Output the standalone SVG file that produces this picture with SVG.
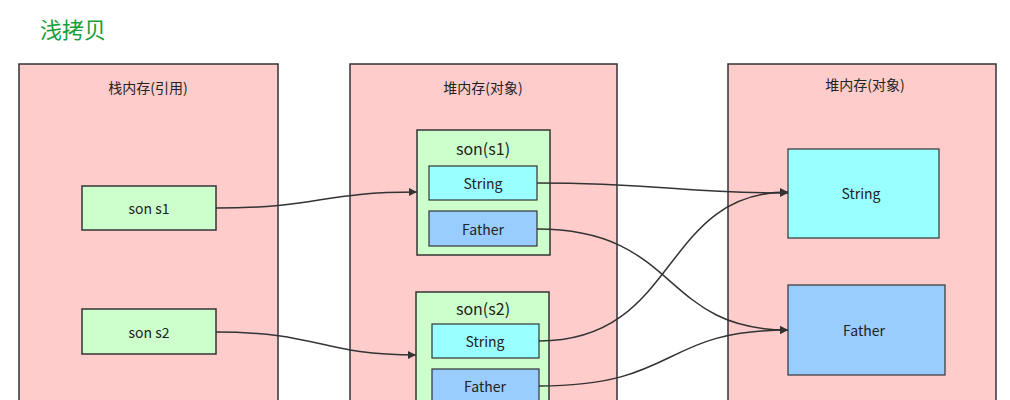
<svg xmlns="http://www.w3.org/2000/svg" width="1010" height="400" viewBox="0 0 1010 400">
<style>
text{font-family:"Noto Sans CJK SC","Liberation Sans",sans-serif;fill:#222;text-anchor:middle;dominant-baseline:central}
.p{fill:#ffcccc;stroke:#333;stroke-width:1.5}
.g{fill:#ccffcc;stroke:#333;stroke-width:1.5}
.c{fill:#99ffff;stroke:#333;stroke-width:1.2}
.b{fill:#99ccff;stroke:#333;stroke-width:1.2}
.e{fill:none;stroke:#333;stroke-width:1.5;marker-end:url(#a)}
.s{font-size:14px}
</style>
<defs><marker id="a" viewBox="0 0 10 10" refX="10" refY="5" markerWidth="8" markerHeight="8" orient="auto" markerUnits="userSpaceOnUse"><path d="M0,0L10,5L0,10z" fill="#333"/></marker></defs>
<rect width="1010" height="400" fill="#fff"/>
<text x="40" y="28" style="text-anchor:start;font-size:22px;fill:#1a9e3a">浅拷贝</text>
<g id="stack"><rect class="p" x="19" y="64" width="259" height="350"/><text x="148" y="87" class="s">栈内存(引用)</text></g>
<g id="heap1"><rect class="p" x="350" y="64" width="267" height="350"/><text x="483" y="87" class="s">堆内存(对象)</text></g>
<g id="heap2"><rect class="p" x="728" y="64" width="268" height="350"/><text x="865" y="84" class="s">堆内存(对象)</text></g>
<g id="s1"><rect class="g" x="82" y="186" width="134" height="44"/><text x="149" y="208" class="s">son s1</text></g>
<g id="s2"><rect class="g" x="82" y="309" width="134" height="45"/><text x="149" y="332" class="s">son s2</text></g>
<g id="son1"><rect class="g" x="417" y="130" width="133" height="125"/><text x="483" y="148" style="font-size:16px">son(s1)</text>
<rect class="c" x="429" y="166" width="108" height="34"/><text x="483" y="183" class="s">String</text>
<rect class="b" x="429" y="211" width="108" height="35"/><text x="483" y="229" class="s">Father</text></g>
<g id="son2"><rect class="g" x="416" y="292" width="133" height="120"/><text x="483" y="308" style="font-size:16px">son(s2)</text>
<rect class="c" x="432" y="324" width="107" height="34"/><text x="485" y="341" class="s">String</text>
<rect class="b" x="432" y="369" width="107" height="35"/><text x="485" y="386" class="s">Father</text></g>
<g id="str"><rect class="c" x="788" y="149" width="151" height="89"/><text x="861" y="193" class="s">String</text></g>
<g id="fat"><rect class="b" x="788" y="285" width="157" height="90"/><text x="864" y="330" class="s">Father</text></g>
<g id="edges">
<path class="e" d="M216,208C320,208 320,192 417,192"/>
<path class="e" d="M216,332C320,332 320,355 416,355"/>
<path class="e" d="M537,183C660,183 680,193 788,193"/>
<path class="e" d="M537,229C680,229 660,330 788,330"/>
<path class="e" d="M539,341C680,341 660,192 788,192"/>
<path class="e" d="M539,386C680,386 660,330 788,330"/>
</g>
</svg>
